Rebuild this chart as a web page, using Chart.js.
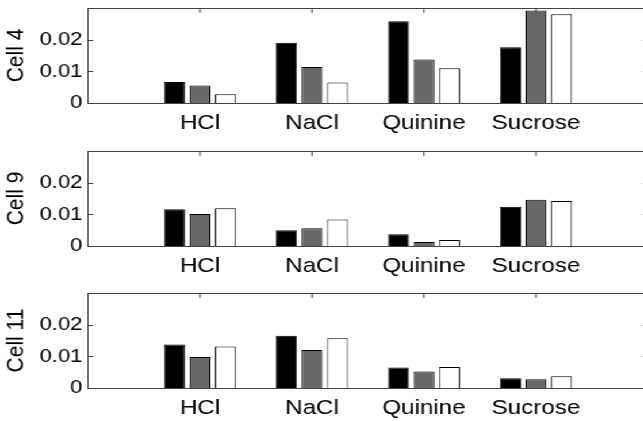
<!DOCTYPE html>
<html>
<head>
<meta charset="utf-8">
<script src="https://cdn.jsdelivr.net/npm/chart.js@4/dist/chart.umd.min.js"></script>
<style>
  html, body { margin: 0; padding: 0; background: #fff; overflow: hidden; width: 643px; height: 421px; }
  #wrap { position: absolute; left: 0; top: 0; width: 590px; height: 421px; transform: scaleX(1.15); transform-origin: 0 0; }
  canvas { position: absolute; left: 0; }
</style>
</head>
<body>
<div id="wrap">
  <canvas id="c1" width="590" height="140" style="top:0px"></canvas>
  <canvas id="c2" width="590" height="140" style="top:143px"></canvas>
  <canvas id="c3" width="590" height="140" style="top:285px"></canvas>
</div>
<script>
// ---- data ----
const categories = ['HCl', 'NaCl', 'Quinine', 'Sucrose'];
const panelTitles = ['Cell 4', 'Cell 9', 'Cell 11'];
const yTickValues = [0, 0.01, 0.02];

const cell4Black  = [0.0066, 0.0190, 0.0258, 0.0176];
const cell4Gray   = [0.0055, 0.0114, 0.0137, 0.0292];
const cell4White  = [0.0028, 0.0065, 0.0110, 0.0280];

const cell9Black  = [0.0116, 0.0050, 0.0037, 0.0124];
const cell9Gray   = [0.0101, 0.0056, 0.0013, 0.0146];
const cell9White  = [0.0119, 0.0084, 0.0019, 0.0142];

const cell11Black = [0.0137, 0.0165, 0.0065, 0.0031];
const cell11Gray  = [0.0098, 0.0120, 0.0052, 0.0028];
const cell11White = [0.0131, 0.0157, 0.0066, 0.0037];

// ---- styling ----
const S = 1.15;               // horizontal stretch applied with CSS
const W = 590;
const FONT = '"Liberation Sans", Arial, Helvetica, sans-serif';
const XFONT = 21;
const YFONT = 19;
const AXIS = '#444444';
const TEXT = '#000000';
const H = 140;

const labels = [''].concat(categories, ['']);
const pad = arr => [null].concat(arr, [null]);

const framePlugin = {
  id: 'frame',
  afterDatasetsDraw(chart) {
    const { ctx, chartArea: a, scales: { x, y } } = chart;
    ctx.save();
    ctx.strokeStyle = AXIS;
    ctx.lineWidth = 1;
    ctx.beginPath();
    ctx.moveTo(a.left, a.top + 0.5);
    ctx.lineTo(a.right, a.top + 0.5);
    ctx.moveTo(a.right - 0.5, a.top);
    ctx.lineTo(a.right - 0.5, a.bottom);
    for (let i = 0; i < x.ticks.length; i++) {
      const px = x.getPixelForTick(i);
      ctx.moveTo(px, a.top);
      ctx.lineTo(px, a.top + 5);
    }
    y.ticks.forEach(t => {
      const py = Math.round(y.getPixelForValue(t.value)) + 0.5;
      ctx.moveTo(a.left, py);
      ctx.lineTo(a.left + 4.5, py);
      ctx.moveTo(a.right, py);
      ctx.lineTo(a.right - 4.5, py);
    });
    ctx.stroke();
    ctx.restore();
  }
};

function makeChart(id, title, black, gray, white) {
  return new Chart(document.getElementById(id), {
    type: 'bar',
    data: {
      labels: labels,
      datasets: [
        { data: pad(black), backgroundColor: '#000000', borderColor: '#000000', borderWidth: 1 },
        { data: pad(gray),  backgroundColor: '#676767', borderColor: '#000000', borderWidth: 1 },
        { data: pad(white), backgroundColor: '#ffffff', borderColor: '#000000', borderWidth: 1 }
      ]
    },
    options: {
      responsive: false,
      animation: false,
      devicePixelRatio: 1,
      categoryPercentage: 0.683,
      barPercentage: 0.82,
      layout: { padding: { top: 8, right: W - 648 / S, bottom: 0, left: 0 } },
      plugins: { legend: { display: false }, tooltip: { enabled: false } },
      scales: {
        x: {
          type: 'category',
          offset: false,
          grid: { display: false, drawTicks: false },
          border: { display: true, color: AXIS, width: 1 },
          ticks: {
            autoSkip: false, maxRotation: 0, minRotation: 0, padding: 8,
            color: TEXT, font: { family: FONT, size: XFONT }
          },
          afterFit: s => { s.height = H - 103; s.paddingLeft = 0; s.paddingRight = 0; }
        },
        y: {
          min: 0, max: 0.03,
          grid: { display: false, drawTicks: false },
          border: { display: true, color: AXIS, width: 1 },
          afterBuildTicks: s => { s.ticks = yTickValues.map(v => ({ value: v })); },
          ticks: {
            padding: 5, color: TEXT, font: { family: FONT, size: YFONT },
            callback: v => String(+v.toFixed(3))
          },
          title: {
            display: true, text: title, color: TEXT,
            font: { family: FONT, size: XFONT }, padding: { top: 1.7, bottom: 0 }
          },
          afterFit: s => { s.width = 88 / S; s.paddingTop = 0; s.paddingBottom = 0; }
        }
      }
    },
    plugins: [framePlugin]
  });
}

makeChart('c1', panelTitles[0], cell4Black, cell4Gray, cell4White);
makeChart('c2', panelTitles[1], cell9Black, cell9Gray, cell9White);
makeChart('c3', panelTitles[2], cell11Black, cell11Gray, cell11White);
</script>
</body>
</html>
